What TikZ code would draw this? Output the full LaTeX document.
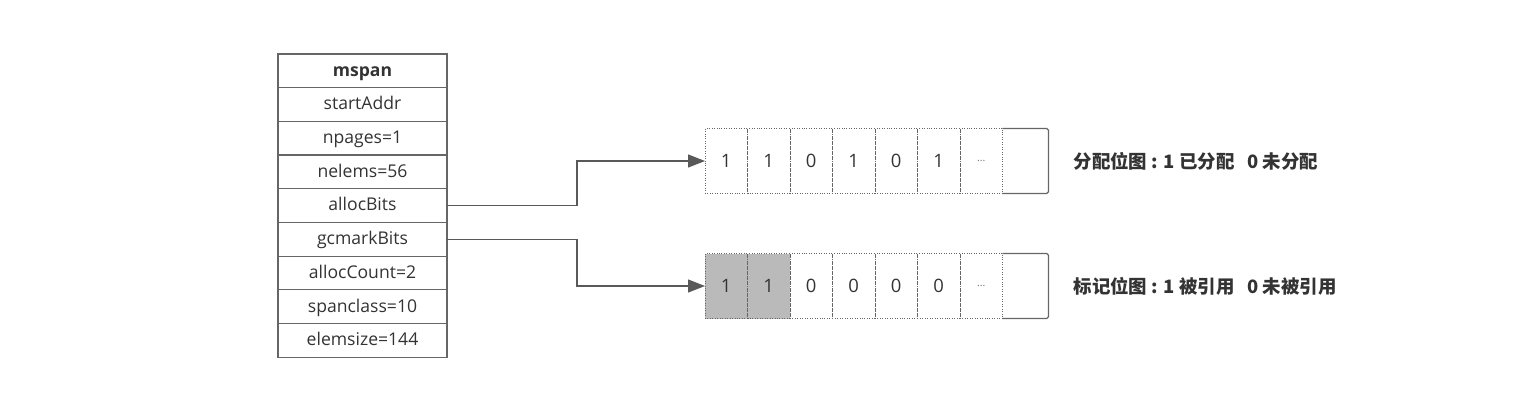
\documentclass[tikz,border=0pt]{standalone}
\usepackage{fontspec}
\setmainfont{Open Sans}
\newfontfamily\cjk{Noto Sans CJK SC}
\usetikzlibrary{arrows.meta, positioning}

\begin{document}
\begin{tikzpicture}[
    x=0.02cm, y=-0.02cm,
    field/.style={rectangle, draw=black!60, line width=0.7pt, fill=white, text=black!80,
                  minimum width=3.38cm, minimum height=0.674cm, inner sep=0pt, outer sep=0pt,
                  text height=1.6ex, text depth=0.45ex, font=\fontsize{10}{12}\selectfont},
    bit/.style={rectangle, draw=black!60, densely dotted, text=black!80,
                minimum width=0.85cm, minimum height=1.3cm, inner sep=0pt, outer sep=0pt,
                font=\fontsize{10.5}{12}\selectfont},
    marked/.style={bit, fill=black!27},
    more/.style={bit, font=\fontsize{6}{8}\selectfont, text=black!55},
    spare/.style={rectangle, minimum width=0.92cm, minimum height=1.3cm, inner sep=0pt, outer sep=0pt},
    note/.style={text=black!80, font=\cjk\bfseries\fontsize{10.5}{12}\selectfont},
    arrow/.style={line width=0.7pt, draw=black!65, -{Triangle[length=0.34cm, width=0.26cm]}}
]
\useasboundingbox (0,0) rectangle (1518,400);
% mspan struct
\node (mspan)      [field, font=\bfseries\fontsize{10}{12}\selectfont] at (362.5,70.8) {mspan};
\node (startaddr)  [field, below=0pt of mspan]      {startAddr};
\node (npages)     [field, below=0pt of startaddr]  {npages=1};
\node (nelems)     [field, below=0pt of npages]     {nelems=56};
\node (allocbits)  [field, below=0pt of nelems]     {allocBits};
\node (gcmarkbits) [field, below=0pt of allocbits]  {gcmarkBits};
\node (alloccount) [field, below=0pt of gcmarkbits] {allocCount=2};
\node (spanclass)  [field, below=0pt of alloccount] {spanclass=10};
\node (elemsize)   [field, below=0pt of spanclass]  {elemsize=144};
% allocation bitmap
\node (a1) [bit] at (726.25,161) {1};
\node (a2) [bit, right=0pt of a1] {1};
\node (a3) [bit, right=0pt of a2] {0};
\node (a4) [bit, right=0pt of a3] {1};
\node (a5) [bit, right=0pt of a4] {0};
\node (a6) [bit, right=0pt of a5] {1};
\node (a7) [more, right=0pt of a6] {...};
\node (a8) [spare, right=0pt of a7] {};
\draw [draw=black!60, line width=0.7pt, rounded corners=1pt]
    (a8.north west) -- (a8.north east) -- (a8.south east) -- (a8.south west);
% mark bitmap
\node (m1) [marked] at (726.25,286) {1};
\node (m2) [marked, right=0pt of m1] {1};
\node (m3) [bit, right=0pt of m2] {0};
\node (m4) [bit, right=0pt of m3] {0};
\node (m5) [bit, right=0pt of m4] {0};
\node (m6) [bit, right=0pt of m5] {0};
\node (m7) [more, right=0pt of m6] {...};
\node (m8) [spare, right=0pt of m7] {};
\draw [draw=black!60, line width=0.7pt, rounded corners=1pt]
    (m8.north west) -- (m8.north east) -- (m8.south east) -- (m8.south west);
% notes
\node (allocnote) [note, right=0.38cm of a8] {分配位图 : 1 已分配\hspace{0.7em}0 未分配};
\node (marknote)  [note, right=0.38cm of m8] {标记位图 : 1 被引用\hspace{0.7em}0 未被引用};
% pointers
\draw [arrow] (allocbits.east)  -- ++(130,0) |- (a1.west);
\draw [arrow] (gcmarkbits.east) -- ++(130,0) |- (m1.west);
\end{tikzpicture}
\end{document}
